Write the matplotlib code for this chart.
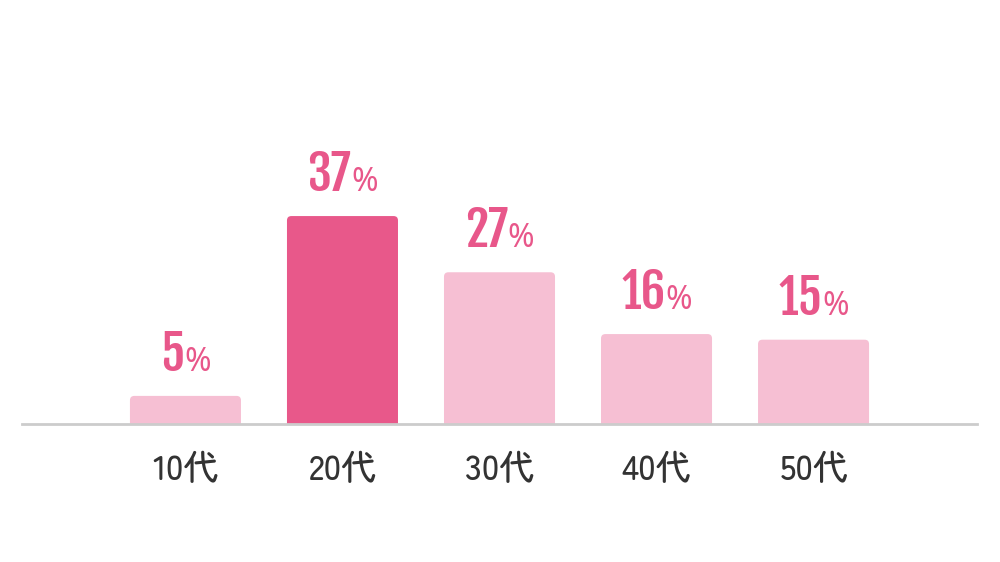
import matplotlib
matplotlib.use("Agg")
import matplotlib.pyplot as plt
from matplotlib import font_manager as fm
from matplotlib.patches import FancyBboxPatch
from matplotlib.offsetbox import TextArea, HPacker, AnnotationBbox

categories = ["10代", "20代", "30代", "40代", "50代"]
values = [5, 37, 27, 16, 15]
highlight = [False, True, False, False, False]

dark = "#E8588A"
light = "#F6BFD3"
text_pink = "#E8578A"

cat_font = fm.FontProperties(family=["Zen Maru Gothic", "Noto Sans CJK JP", "DejaVu Sans"],
                             weight="medium", size=25)

fig = plt.figure(figsize=(10, 5.62), dpi=100)
ax = fig.add_axes([0.022, 1 - 424 / 562, 0.955, 424 / 562])
ax.set_xlim(-1.041, 5.041)
ax.set_ylim(0, 424 / 5.62)

bw = 0.707
aspect = 157 / 5.62
for i, (v, h) in enumerate(zip(values, highlight)):
    p = FancyBboxPatch((i - bw / 2, -2), bw, v + 2,
                       boxstyle="round,pad=0,rounding_size=0.028",
                       mutation_aspect=aspect,
                       fc=dark if h else light, ec="none", clip_on=True)
    ax.add_patch(p)
    num = TextArea(str(v), textprops=dict(color=text_pink, fontsize=35,
                   family="Fjalla One"))
    pct = TextArea("%", textprops=dict(color=text_pink, fontsize=23,
                   family="Noto Sans", fontweight="medium"))
    pack = HPacker(children=[num, pct], align="baseline", pad=0, sep=0)
    ab = AnnotationBbox(pack, (i, v), xybox=(0, 10), xycoords="data",
                        boxcoords="offset points", box_alignment=(0.5, 0),
                        frameon=False, pad=0)
    ax.add_artist(ab)

for s in ["top", "right", "left"]:
    ax.spines[s].set_visible(False)
ax.spines["bottom"].set_color("#CCCCCC")
ax.spines["bottom"].set_linewidth(2)
ax.set_yticks([])
ax.set_xticks(range(len(categories)))
ax.set_xticklabels(categories, fontproperties=cat_font, color="#333333")
ax.tick_params(axis="x", length=0, pad=22)

fig.savefig("out.png", dpi=100)
